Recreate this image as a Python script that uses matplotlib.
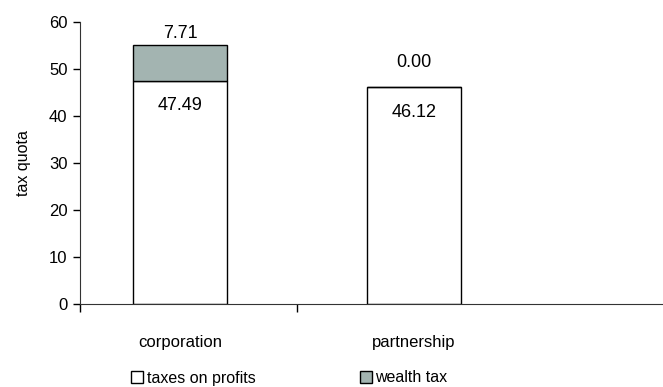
import matplotlib
matplotlib.use('Agg')
import matplotlib.pyplot as plt
import numpy as np
from matplotlib.lines import Line2D

plt.rcParams['font.family'] = ['Liberation Sans', 'DejaVu Sans']

categories = ['corporation', 'partnership']
profits = [47.49, 46.12]
wealth = [7.71, 0.00]
series_names = ['taxes on profits', 'wealth tax']

fig = plt.figure(figsize=(6.63, 3.87), dpi=100)
ax = fig.add_axes([80/663, 83/387, 583/663, 282/387])

x = np.arange(len(categories))
w = 0.40
ax.bar(x, profits, w, color='white', edgecolor='black', linewidth=1.0, zorder=2)
ax.bar(x, wealth, w, bottom=profits, color='#a3b4b1', edgecolor='black', linewidth=1.0, zorder=2)

# value labels
for i in range(len(x)):
    ax.annotate("{:.2f}".format(profits[i]), (x[i], profits[i]), xytext=(0, -18),
                textcoords='offset points', ha='center', va='center', fontsize=13)
wealth_off = [8, 18]
for i in range(len(x)):
    top = profits[i] + wealth[i]
    ax.annotate("{:.2f}".format(wealth[i]), (x[i], top), xytext=(0, wealth_off[i]),
                textcoords='offset points', ha='center', va='center', fontsize=13)

left = (80 - 180) / 234
right = (663 - 180) / 234
ax.set_xlim(left, right)
ax.set_ylim(0, 60)
ax.set_yticks([0, 10, 20, 30, 40, 50, 60])
ax.tick_params(axis='y', direction='out', length=5, width=1, labelsize=12, pad=4)

ax.set_xticks([left, 0.5])
ax.set_xticklabels(['', ''])
ax.tick_params(axis='x', which='major', direction='out', length=6, width=1)
ax.set_xticks(x, minor=True)
ax.set_xticklabels(categories, minor=True)
ax.tick_params(axis='x', which='minor', length=0, labelsize=12, pad=22)

for s in ['top', 'right']:
    ax.spines[s].set_visible(False)
ax.spines['left'].set_color('#333333')
ax.spines['bottom'].set_color('#333333')
ax.set_ylabel('tax quota', fontsize=11.5, labelpad=13)

handles = [Line2D([], [], marker='s', linestyle='none', markersize=9, markerfacecolor='white',
                  markeredgecolor='black'),
           Line2D([], [], marker='s', linestyle='none', markersize=9, markerfacecolor='#a3b4b1',
                  markeredgecolor='black')]
fig.legend(handles, series_names, loc='center left', bbox_to_anchor=(131/663, 1 - 378/387),
           ncol=2, frameon=False, fontsize=11.5, handletextpad=0.2,
           columnspacing=6.5, handlelength=0.8, borderpad=0, borderaxespad=0)

plt.savefig('out.png', dpi=100)
